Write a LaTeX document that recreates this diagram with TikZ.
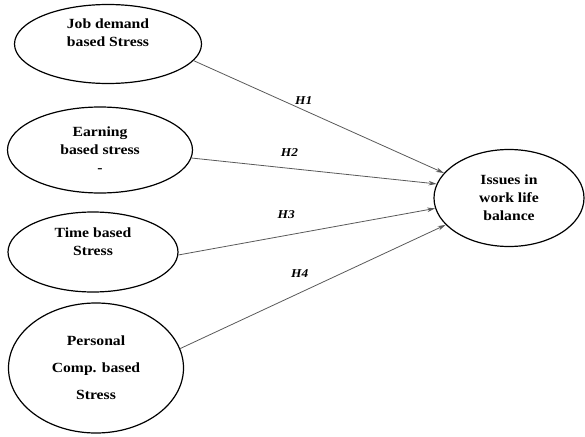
\documentclass[tikz,border=0pt]{standalone}
\usepackage{fontspec}
\setmainfont[FakeStretch=1.12]{Liberation Serif}
\usepackage{tikz}
\usetikzlibrary{arrows.meta, shapes.geometric}
\tikzset{
    construct/.style={ellipse, draw=black, line width=1.2pt, inner sep=0pt, align=center,
        font=\fontsize{14}{18}\selectfont\bfseries},
    path/.style={draw=black!65, line width=0.8pt, -{Stealth[length=8pt, width=4.5pt]}},
    hyp/.style={font=\fontsize{12}{14}\selectfont\bfseries\itshape}
}

\begin{document}
\begin{tikzpicture}[x=1pt, y=1pt]
    \useasboundingbox (0,0) rectangle (585,-436);
    \node[construct, minimum width=187pt, minimum height=79pt] (job) at (108,-44) {Job demand\\based Stress\\[4pt]};
    \node[construct, minimum width=185pt, minimum height=86pt] (earn) at (100,-150) {Earning\\based stress\\-};
    \node[construct, minimum width=170pt, minimum height=80pt] (time) at (93,-252) {Time based\\Stress\\[2pt]};
    \node[construct, minimum width=175pt, minimum height=130pt] (pers) at (96,-368) {Personal\\[9pt]Comp. based\\[9pt]Stress};
    \node[construct, minimum width=150pt, minimum height=97pt] (wlb) at (509,-198) {Issues in\\work life\\balance};
    % hypothesised paths
    \draw[path] (job.-11) -- (wlb.159) node[hyp, pos=0.44, above=2pt] {H1};
    \draw[path] (earn.-5) -- (wlb.169) node[hyp, pos=0.4, above=8pt] {H2};
    \draw[path] (time.-2) -- (wlb.188) node[hyp, pos=0.42, above=13pt] {H3};
    \draw[path] (pers.13) -- (wlb.203) node[hyp, pos=0.45, above=12pt] {H4};
\end{tikzpicture}
\end{document}
